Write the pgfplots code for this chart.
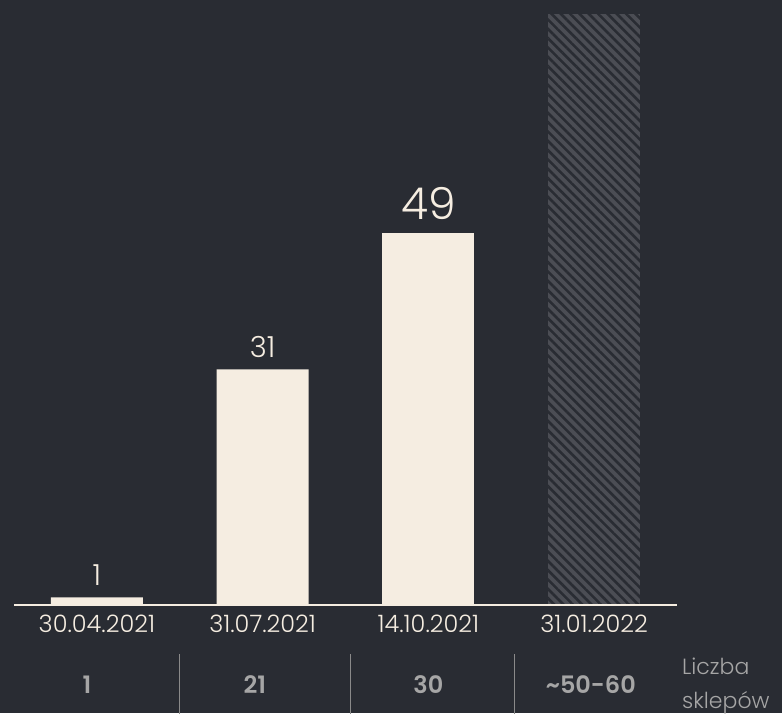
\documentclass[border=0pt]{standalone}
\usepackage{fontspec}
\setmainfont{Poppins}[UprightFont=* Light, BoldFont=* SemiBold]
\usepackage{pgfplots}
\pgfplotsset{compat=1.18}
\usetikzlibrary{patterns.meta}

\definecolor{bg}{HTML}{292C33}
\definecolor{cream}{HTML}{F5EDE1}
\definecolor{hatch}{HTML}{4B4D54}
\definecolor{numgray}{HTML}{A6A6A6}
\definecolor{sepgray}{HTML}{8A8A8A}

\begin{document}
\begin{tikzpicture}[x=1pt,y=1pt]
\useasboundingbox (0,0) rectangle (782,713);
\fill[bg] (0,0) rectangle (782,713);
\begin{axis}[at={(14pt,108pt)}, anchor=south west,
	scale only axis, width=663pt, height=605pt,
	xmin=-0.5, xmax=3.5, ymin=0, ymax=79.6,
	axis x line=bottom, axis y line=none, axis on top,
	axis line style={draw=cream, line width=2pt, -},
	xtick={0,1,2,3},
	xticklabels={30.04.2021,31.07.2021,14.10.2021,31.01.2022},
	major tick length=0pt,
	xticklabel style={text=cream, font=\fontsize{24}{28}\selectfont, inner sep=0pt, yshift=-10pt},
	/pgf/number format/assume math mode=true,
	ybar, bar width=0.555, bar shift=0pt,
	clip=false,
	]
	\addplot[fill=cream, draw=none, nodes near coords,
		every node near coord/.append style={text=cream, font=\fontsize{29}{32}\selectfont, inner sep=0pt, anchor=south, yshift=12pt}]
		coordinates {(0,1) (1,31)};
	\addplot[fill=cream, draw=none, nodes near coords,
		every node near coord/.append style={text=cream, font=\fontsize{44}{48}\selectfont, inner sep=0pt, anchor=south, yshift=13pt}]
		coordinates {(2,49)};
	\addplot[fill=hatch, draw=none,
		postaction={pattern={Lines[angle=-45, distance=6.6pt, line width=2.6pt]}, pattern color=bg}]
		coordinates {(3,77.8)};

	% bottom row
	\draw[sepgray, line width=0.8pt] (axis cs:0.50,-6.5) -- (axis cs:0.50,-14.5);
	\draw[sepgray, line width=0.8pt] (axis cs:1.53,-6.5) -- (axis cs:1.53,-14.5);
	\draw[sepgray, line width=0.8pt] (axis cs:2.52,-6.5) -- (axis cs:2.52,-14.5);
	\node[text=numgray, font=\fontsize{24}{28}\selectfont\bfseries] at (axis cs:-0.06,-10.53) {1};
	\node[text=numgray, font=\fontsize{24}{28}\selectfont\bfseries] at (axis cs:0.953,-10.53) {21};
	\node[text=numgray, font=\fontsize{24}{28}\selectfont\bfseries] at (axis cs:2.0,-10.53) {30};
	\node[text=numgray, font=\fontsize{24}{28}\selectfont\bfseries] at (axis cs:2.98,-10.53) {\char`~50-60};
	\node[text=numgray, font=\fontsize{22}{34}\selectfont, anchor=west, align=left, inner sep=0pt]
		at (axis cs:3.53,-10.6) {Liczba\\sklepów};
\end{axis}
\end{tikzpicture}
\end{document}
